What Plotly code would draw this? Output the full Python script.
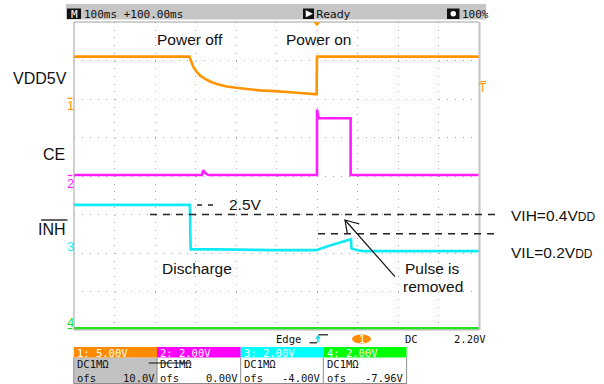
import plotly.graph_objects as go

W, H = 604, 384

# ---- acquisition settings -------------------------------------------------
# time base 100 ms/div, 10 divisions, trigger point placed 100 ms right of centre
t_range = [-600, 400]
ch_scale = [5.0, 2.0, 2.0, 2.0]        # V/div for CH1..CH4
ch_offset = [10.0, 0.0, -4.0, -7.96]   # offset in V for CH1..CH4

# ---- captured waveforms (time in ms, level in V) --------------------------
vdd_t = [-600, -315, -310, -305, -298, -289, -276, -264, -245, -223, -200,
         -182, -160, -141, -115, -91, -65, -42, -20, -1, 0, 400]
vdd_v = [5.5, 5.5, 4.8, 4.14, 3.6, 3.06, 2.6, 2.28, 1.9, 1.63, 1.45,
         1.34, 1.22, 1.12, 1.05, 0.99, 0.88, 0.77, 0.68, 0.6, 5.5, 5.5]

ce_t = [-600, -284, -281, -276, -268, 0, 0, 4, 83, 83, 400]
ce_v = [0.05, 0.05, 0.3, 0.15, 0.05, 0.05, 3.45, 3.0, 3.0, 0.05, 0.05]

inh_t = [-600, -314, -312, -250, -116, -2, 32, 57, 84, 85, 100, 114, 400]
inh_v = [2.5, 2.5, 0.19, 0.19, 0.15, 0.15, 0.39, 0.55, 0.71, 0.24, 0.14, 0.1, 0.1]

ch4_t = [-600, 400]
ch4_v = [0.05, 0.05]

# thresholds referred to VDD
VDD = 5.0
vih = 0.4 * VDD
vil = 0.2 * VDD
inh_high = 2.5

# channel readout table
ch_names = ["1: 5.00V", "2: 2.00V", "3: 2.00V", "4: 2.00V"]
ch_coupling = ["DC1M\u03a9", "DC1M\u03a9", "DC1M\u03a9", "DC1M\u03a9"]
ch_ofs_text = ["10.0V", "0.00V", "-4.00V", "-7.96V"]

trace_colors = ["#ff9400", "#ff1cff", "#10eaf4", "#22e022"]
box_colors = ["#ff8c00", "#ff00ff", "#00ffff", "#00ff00"]

MONO = "DejaVu Sans Mono"
SANS = "Liberation Sans"


def to_div(values, ch):
    return [(v + ch_offset[ch]) / ch_scale[ch] for v in values]


def fx(x):
    return x / W


def fy(y):
    return 1 - y / H


fig = go.Figure()

for t, v, ch in [(ch4_t, ch4_v, 3), (inh_t, inh_v, 2), (ce_t, ce_v, 1), (vdd_t, vdd_v, 0)]:
    fig.add_trace(go.Scatter(
        x=t, y=to_div(v, ch), mode="lines",
        line=dict(color=trace_colors[ch], width=2.6),
        hoverinfo="skip", showlegend=False))

fig.update_layout(
    width=W, height=H, margin=dict(l=0, r=0, t=0, b=0),
    paper_bgcolor="white", plot_bgcolor="white", showlegend=False,
    xaxis=dict(domain=[fx(74), fx(479)], range=t_range, dtick=100, tick0=-600,
               showticklabels=False, ticks="", zeroline=False, showline=False,
               showgrid=True, gridcolor="#a6a6a6", gridwidth=1, griddash="1px,6.7px",
               fixedrange=True),
    yaxis=dict(domain=[fy(330), fy(22)], range=[-4, 4], dtick=1, tick0=-4,
               showticklabels=False, ticks="", zeroline=False, showline=False,
               showgrid=True, gridcolor="#a6a6a6", gridwidth=1, griddash="1px,7.1px",
               fixedrange=True),
)

shapes = []


def line_px(x0, y0, x1, y1, color, width=1, dash="solid"):
    shapes.append(dict(type="line", xref="paper", yref="paper",
                       x0=fx(x0), y0=fy(y0), x1=fx(x1), y1=fy(y1),
                       line=dict(color=color, width=width, dash=dash)))


def rect_px(x0, y0, x1, y1, fill, line_color=None, width=1, layer="above"):
    shapes.append(dict(type="rect", xref="paper", yref="paper",
                       x0=fx(x0), y0=fy(y0), x1=fx(x1), y1=fy(y1),
                       fillcolor=fill, layer=layer,
                       line=dict(color=line_color or fill, width=width if line_color else 0)))


def path_px(points, color, width=1, fill=None, closed=False):
    d = "M " + " L ".join(f"{fx(x):.5f},{fy(y):.5f}" for x, y in points)
    if closed:
        d += " Z"
    shapes.append(dict(type="path", xref="paper", yref="paper", path=d,
                       fillcolor=fill if fill else "rgba(0,0,0,0)",
                       line=dict(color=color, width=width)))


def level_line(x0, x1, volts, ch, color="#222222", width=1.3, dash="7px,6px"):
    yv = (volts + ch_offset[ch]) / ch_scale[ch]
    shapes.append(dict(type="line", xref="paper", yref="y",
                       x0=fx(x0), x1=fx(x1), y0=yv, y1=yv,
                       line=dict(color=color, width=width, dash=dash)))


# graticule frame
line_px(74, 22, 479, 22, "#a0a0a0", 1)
line_px(74, 22, 74, 330, "#a0a0a0", 1)
line_px(74, 330, 479, 330, "#b0b0b0", 1)
line_px(479.5, 22, 479.5, 330, "#c4c4c4", 2)

# status bar
rect_px(66, 4, 486, 19.5, "#c6c6c6", layer="below")
rect_px(67, 8.5, 81, 19, "#111111")
rect_px(303, 8.5, 314, 19, "#111111")
path_px([(306, 10.5), (312.5, 13.8), (306, 17)], "white", 0.5, fill="white", closed=True)
rect_px(447, 8.5, 459.5, 19, "#111111")
shapes.append(dict(type="circle", xref="paper", yref="paper",
                   x0=fx(450.5), x1=fx(456), y0=fy(11), y1=fy(16.5),
                   fillcolor="white", line=dict(color="white", width=0)))

# trigger position and trigger level markers
path_px([(314, 22.5), (320, 22.5), (317, 26)], trace_colors[0], 0.5, fill=trace_colors[0], closed=True)
line_px(480.5, 81.6, 486, 81.6, trace_colors[0], 1.2)

# channel ground markers
line_px(67.5, 98.3, 72.5, 98.3, trace_colors[0], 1.2)
line_px(67.5, 175.5, 72.5, 175.5, trace_colors[1], 1.2)
line_px(67.5, 328.5, 72.5, 328.5, trace_colors[3], 1.2)

# threshold lines and INH high level leader
level_line(150, 498, vih, 2)
level_line(318, 498, vil, 2)
level_line(197, 217, inh_high, 2, width=1.5, dash="5px,6px")

# overline of INH
line_px(41, 220, 67.5, 220, "#111111", 1.3)

# arrow pointing at the removed pulse
path_px([(395, 276.7), (345, 220)], "#111111", 1.2)
path_px([(359.3, 224), (345, 220), (347.3, 233.3)], "#111111", 1.2)

# trigger settings row: edge symbol and source badge
line_px(309.5, 342.8, 317, 342.8, "#111111", 1.2)
line_px(318, 342.5, 318, 336, "#10d8f0", 1.6)
path_px([(315.8, 338.5), (318, 335), (320.2, 338.5)], "#10d8f0", 0.5, fill="#10d8f0", closed=True)
line_px(318.5, 334.8, 328, 334.8, "#111111", 1.2)
shapes.append(dict(type="circle", xref="paper", yref="paper",
                   x0=fx(352), x1=fx(371), y0=fy(334.5), y1=fy(343.5),
                   fillcolor=box_colors[0], line=dict(color=box_colors[0], width=0)))

# channel readout boxes
edges = [73.8, 157, 240.7, 323.3, 406.6]
rect_px(edges[0], 357.5, edges[1], 384, "#c2c2c2", layer="below")
for i in range(4):
    rect_px(edges[i], 347, edges[i + 1], 357.5, box_colors[i])
    line_px(edges[i], 357.5, edges[i], 384, "#8c8c8c", 1)
line_px(edges[4], 357.5, edges[4], 384, "#8c8c8c", 1)
line_px(edges[0], 383.5, edges[4], 383.5, "#8c8c8c", 1)
line_px(148.8, 363, 190.2, 363, "#111111", 1.1)

fig.update_layout(shapes=shapes)

anns = []


def text(s, x, y, size=15.5, color="#111111", xanchor="center", family=SANS):
    anns.append(dict(text=s, x=fx(x), y=fy(y), xref="paper", yref="paper",
                     showarrow=False, xanchor=xanchor, yanchor="middle",
                     font=dict(family=family, size=size, color=color)))


# signal names
text("VDD5V", 68.5, 78.5, 16, xanchor="right")
text("CE", 67, 155, 16, xanchor="right")
text("INH", 67.5, 229.8, 16, xanchor="right")

# event annotations
text("Power off", 189.5, 39.5)
text("Power on", 318.7, 39.5)
text("Discharge", 197.2, 268.5)
text("Pulse is", 432.8, 268)
text("removed", 433, 286.5)
text("2.5V", 226.5, 204, xanchor="left")
text("VIH=0.4V<span style='font-size:12px'>DD</span>", 509, 215.5, xanchor="left")
text("VIL=0.2V<span style='font-size:12px'>DD</span>", 509, 252.5, xanchor="left")

# channel markers
text("1", 70.5, 105, 13, trace_colors[0])
text("2", 70.5, 183.3, 13, trace_colors[1])
text("3", 70.5, 246.5, 13, trace_colors[2])
text("4", 70, 322.5, 13, trace_colors[3])
text("T", 483.3, 87.5, 12, trace_colors[0])

# status bar text
text("M", 74, 14, 11, "white", family=MONO)
text("100ms +100.00ms", 82, 14, 11, "#111111", xanchor="left", family=MONO)
text("Ready", 314, 14, 11, "#111111", xanchor="left", family="DejaVu Sans")
text("100%", 460, 14, 11, "#111111", xanchor="left", family=MONO)

# trigger row text
text("Edge", 274, 339, 10.5, xanchor="left", family=MONO)
text("1", 361.5, 339, 10, "white", family=MONO)
text("DC", 403, 339, 10.5, xanchor="left", family=MONO)
text("2.20V", 487.5, 339, 10.5, xanchor="right", family=MONO)

# readout table text
for i in range(4):
    text(ch_names[i], edges[i] + 1.2, 352.5, 10.5, "white", xanchor="left", family=MONO)
    text(ch_coupling[i], edges[i] + 1.2, 364, 10.5, xanchor="left", family=MONO)
    text("ofs", edges[i] + 1.2, 377.5, 10.5, xanchor="left", family=MONO)
    text(ch_ofs_text[i], edges[i + 1] - 0.5, 377.5, 10.5, xanchor="right", family=MONO)

fig.update_layout(annotations=anns)

fig.write_html("out.html")
